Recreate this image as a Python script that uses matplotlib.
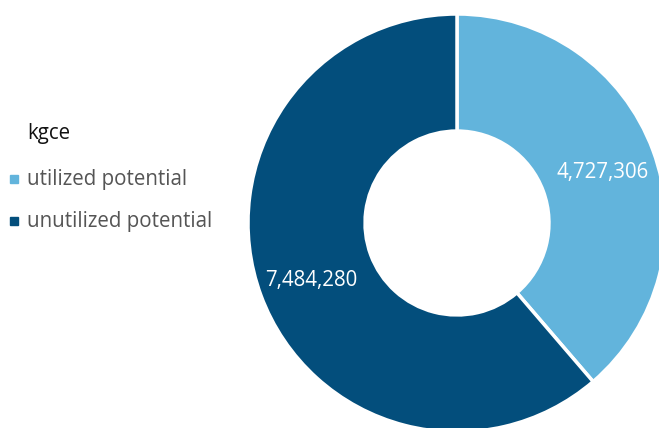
import matplotlib.pyplot as plt
from matplotlib.lines import Line2D

plt.rcParams['font.family'] = ['Open Sans', 'DejaVu Sans']

labels = ["utilized potential", "unutilized potential"]
values = [4727306, 7484280]
colors = ["#62b4dc", "#034e7c"]
unit = "kgce"

W, H = 659, 428
fig = plt.figure(figsize=(W / 100, H / 100), dpi=100)

# donut centred at (457, 223) px, radius 209 px
cx, cy, r = 457, 223, 209
ax = fig.add_axes([(cx - r) / W, (H - cy - r) / H, 2 * r / W, 2 * r / H])
wedges, texts = ax.pie(
    values, colors=colors, startangle=90, counterclock=False, radius=1,
    labels=[f"{v:,}" for v in values], labeldistance=0.745,
    wedgeprops=dict(width=0.56, edgecolor="white", linewidth=2.5),
    textprops=dict(color="white", fontsize=14.8, ha="center", va="center"),
)
for w in wedges:
    w.set_clip_on(False)
for t in texts:
    x, y = t.get_position()
    t.set_position((x, y - 0.017))
ax.set_xlim(-1, 1)
ax.set_ylim(-1, 1)
ax.set_aspect("equal")
ax.axis("off")

# legend
fig.text(27 / W, 1 - 133 / H, unit, fontsize=14.8, color="#111111", va="center")
for i, (lab, col) in enumerate(zip(labels, colors)):
    y = 1 - (179 + 42 * i) / H
    fig.add_artist(Line2D([14 / W], [y], marker="s", markersize=6,
                          color=col, transform=fig.transFigure))
    fig.text(27 / W, y, lab, fontsize=14.8, color="#555555", va="center")

fig.savefig("out.png", dpi=100)
